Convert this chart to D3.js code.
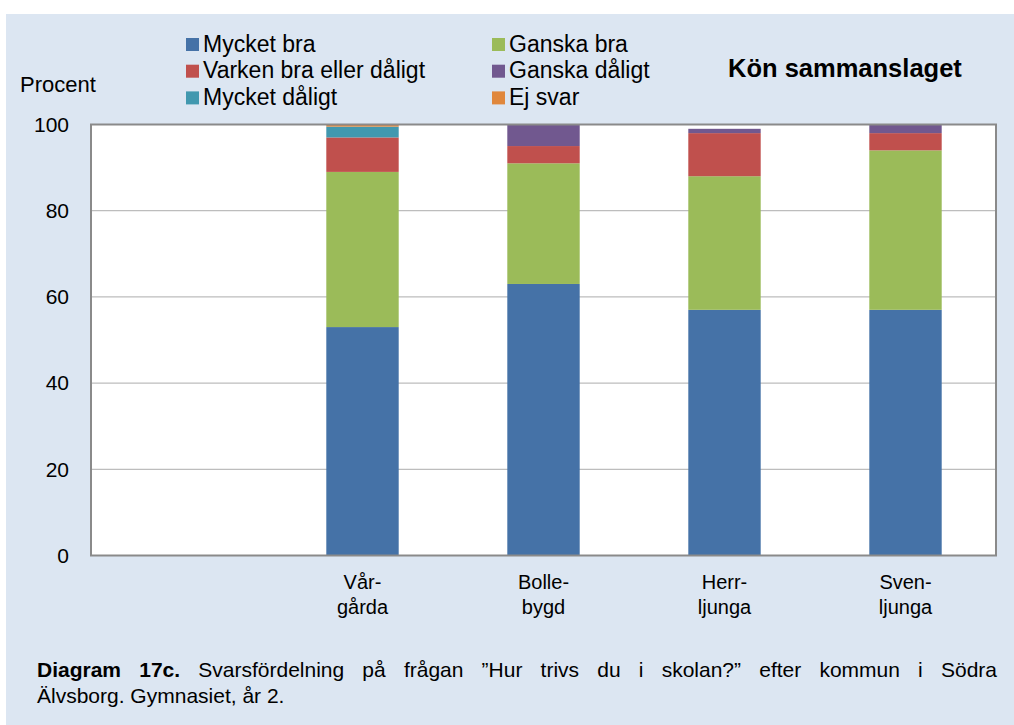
<!DOCTYPE html>
<html>
<head>
<meta charset="utf-8">
<script src="https://cdn.jsdelivr.net/npm/d3@7"></script>
<style>
  body { margin: 0; background: #fff; }
  text { font-family: "Liberation Sans", Arial, sans-serif; fill: #000; }
</style>
</head>
<body>
<div id="chart"></div>
<script>
// data (percent)
var categories = ["", "Vårgårda", "Bollebygd", "Herrljunga", "Svenljunga"];
var catLines = [[], ["Vår-", "gårda"], ["Bolle-", "bygd"], ["Herr-", "ljunga"], ["Sven-", "ljunga"]];
var seriesNames = ["Mycket bra", "Ganska bra", "Varken bra eller dåligt", "Ganska dåligt", "Mycket dåligt", "Ej svar"];
var mycketBra    = [0, 53, 63, 57, 57];
var ganskaBra    = [0, 36, 28, 31, 37];
var varken       = [0, 8, 4, 10, 4];
var ganskaDaligt = [0, 0, 5, 1, 2];
var mycketDaligt = [0, 2.5, 0, 0, 0];
var ejSvar       = [0, 0.5, 0, 0, 0];
var yTicks = [0, 20, 40, 60, 80, 100];
var colors = ["#4572a7", "#9bbb59", "#c0504d", "#71588f", "#4198af", "#e0873c"];

// stacking order bottom -> top
var stackOrder = [0, 1, 2, 3, 4, 5];
var seriesValues = [mycketBra, ganskaBra, varken, ganskaDaligt, mycketDaligt, ejSvar];

var W = 1014, H = 725;
var plot = {left: 91, right: 996, top: 124.5, bottom: 555.5};

var svg = d3.select("#chart").append("svg")
    .attr("width", W)
    .attr("height", H);

svg.append("rect")
    .attr("x", 6).attr("y", 14)
    .attr("width", W - 6).attr("height", H - 14)
    .attr("fill", "#dce6f2");

var x = d3.scaleBand()
    .domain(categories)
    .range([plot.left, plot.right])
    .paddingInner(0.6)
    .paddingOuter(0.3);

var y = d3.scaleLinear()
    .domain([0, 100])
    .range([plot.bottom, plot.top]);

// plot area
svg.append("rect")
    .attr("x", plot.left).attr("y", plot.top)
    .attr("width", plot.right - plot.left)
    .attr("height", plot.bottom - plot.top)
    .attr("fill", "#fff");

// gridlines
svg.append("g").selectAll("line")
    .data(yTicks.slice(1, -1))
    .enter().append("line")
    .attr("x1", plot.left).attr("x2", plot.right)
    .attr("y1", function(d) { return y(d); })
    .attr("y2", function(d) { return y(d); })
    .attr("stroke", "#bdbdbd")
    .attr("stroke-width", 1.2);

// build stack table
var table = categories.map(function(c, i) {
  var row = {cat: c};
  seriesNames.forEach(function(s, k) { row[s] = seriesValues[k][i]; });
  return row;
});
var stack = d3.stack().keys(stackOrder.map(function(k) { return seriesNames[k]; }));
var layers = stack(table);

svg.append("g").selectAll("g")
    .data(layers)
    .enter().append("g")
    .attr("fill", function(d, i) { return colors[stackOrder[i]]; })
    .selectAll("rect")
    .data(function(d) { return d; })
    .enter().append("rect")
    .attr("x", function(d) { return x(d.data.cat); })
    .attr("width", x.bandwidth())
    .attr("y", function(d) { return y(d[1]); })
    .attr("height", function(d) { return y(d[0]) - y(d[1]); });

// frame
svg.append("rect")
    .attr("x", plot.left).attr("y", plot.top)
    .attr("width", plot.right - plot.left)
    .attr("height", plot.bottom - plot.top)
    .attr("fill", "none")
    .attr("stroke", "#8a8a8a")
    .attr("stroke-width", 2);

// y axis
var yAxis = d3.axisLeft(y).tickValues(yTicks).tickSize(0).tickPadding(22);
var yg = svg.append("g")
    .attr("transform", "translate(" + plot.left + ",0)")
    .call(yAxis);
yg.select(".domain").remove();
yg.selectAll("text")
    .attr("font-size", "21px")
    .attr("font-family", "Liberation Sans, Arial, sans-serif")
    .attr("fill", "#000");

// x labels (two lines each)
var xl = svg.append("g").selectAll("text")
    .data(categories)
    .enter().append("text")
    .attr("text-anchor", "middle")
    .attr("font-size", "20px")
    .attr("x", function(d) { return x(d) + x.bandwidth() / 2; })
    .attr("y", 589);
xl.each(function(d, i) {
  var t = d3.select(this);
  catLines[i].forEach(function(line, j) {
    t.append("tspan")
      .attr("x", x(d) + x.bandwidth() / 2)
      .attr("dy", j === 0 ? 0 : 25)
      .text(line);
  });
});

svg.append("text")
    .attr("x", 20).attr("y", 92)
    .attr("font-size", "22px")
    .text("Procent");

// legend: order as in picture
var legendOrder = [0, 1, 2, 3, 4, 5];
var legend = svg.append("g").selectAll("g")
    .data(legendOrder)
    .enter().append("g")
    .attr("transform", function(d, i) {
      var col = i % 2, row = Math.floor(i / 2);
      return "translate(" + (col === 0 ? 186 : 492) + "," + (38 + row * 26.7) + ")";
    });
legend.append("rect")
    .attr("width", 13).attr("height", 13)
    .attr("fill", function(d) { return colors[d]; });
legend.append("text")
    .attr("x", 17).attr("y", 13.5)
    .attr("font-size", "23px")
    .text(function(d) { return seriesNames[d]; });

svg.append("text")
    .attr("x", 728).attr("y", 77)
    .attr("font-size", "25.5px")
    .attr("font-weight", "bold")
    .text("Kön sammanslaget");

// caption, first line justified through word spacing
var captionBold = "Diagram 17c.";
var captionLine1 = " Svarsfördelning på frågan \u201DHur trivs du i skolan?\u201D efter kommun i Södra";
var captionLine2 = "Älvsborg. Gymnasiet, år 2.";
var cap = svg.append("text")
    .attr("x", 37).attr("y", 677)
    .attr("font-size", "21px");
cap.append("tspan").attr("font-weight", "bold").text(captionBold);
cap.append("tspan").text(captionLine1);
var natural = cap.node().getComputedTextLength();
var spaces = (captionBold + captionLine1).split(" ").length - 1;
cap.attr("word-spacing", Math.max(0, (960 - natural) / spaces));

svg.append("text")
    .attr("x", 37).attr("y", 703)
    .attr("font-size", "21px")
    .text(captionLine2);
</script>
</body>
</html>
